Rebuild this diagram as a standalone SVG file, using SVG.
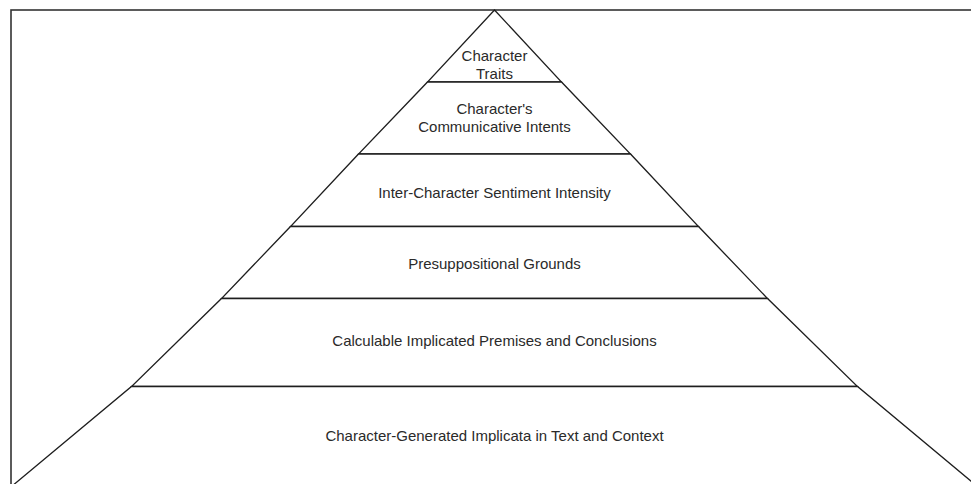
<svg xmlns="http://www.w3.org/2000/svg" width="971" height="484" viewBox="0 0 971 484">
<style>
.layer{fill:#ffffff;stroke:#1e1e1e;stroke-width:1.3;stroke-linejoin:miter}
.lbl{font-family:"Liberation Sans",Arial,sans-serif;font-size:15px;fill:#2a2a2a;text-anchor:middle}
.frame{fill:none;stroke:#333333;stroke-width:1.6}
</style>
<rect x="0" y="0" width="971" height="484" fill="#ffffff"/>
<rect class="frame" x="11" y="10" width="1000" height="520"/>
<g id="layer1">
<polygon class="layer" points="494.5,10 561.5,82 427.5,82"/>
<text class="lbl" x="494.5" y="60.5">Character</text>
<text class="lbl" x="494.5" y="78.5">Traits</text>
</g>
<g id="layer2">
<polygon class="layer" points="427.5,82 561.5,82 630.5,154 358.5,154"/>
<text class="lbl" x="494.5" y="113.5">Character's</text>
<text class="lbl" x="494.5" y="132">Communicative Intents</text>
</g>
<g id="layer3">
<polygon class="layer" points="358.5,154 630.5,154 698.5,226.5 290.5,226.5"/>
<text class="lbl" x="494.5" y="198">Inter-Character Sentiment Intensity</text>
</g>
<g id="layer4">
<polygon class="layer" points="290.5,226.5 698.5,226.5 767.5,298.5 221.5,298.5"/>
<text class="lbl" x="494.5" y="269">Presuppositional Grounds</text>
</g>
<g id="layer5">
<polygon class="layer" points="221.5,298.5 767.5,298.5 857.5,386.5 131.5,386.5"/>
<text class="lbl" x="494.5" y="346">Calculable Implicated Premises and Conclusions</text>
</g>
<g id="layer6">
<polygon class="layer" points="131.5,386.5 857.5,386.5 975.7,485 13.3,485"/>
<text class="lbl" x="494.5" y="441">Character-Generated Implicata in Text and Context</text>
</g>
<g id="connectors"></g>
</svg>
